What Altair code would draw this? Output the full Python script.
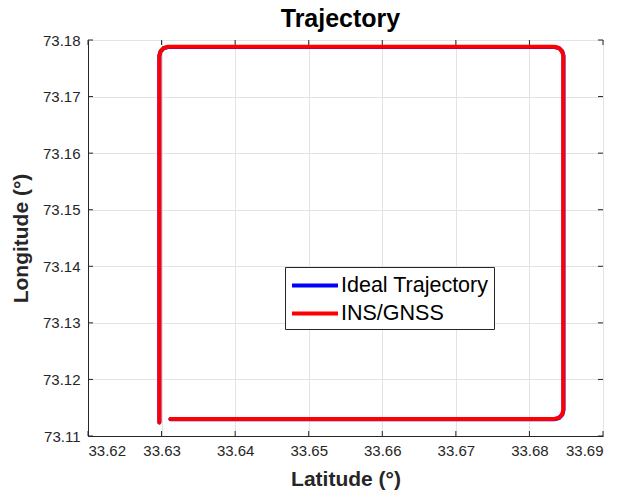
import altair as alt
import pandas as pd

FONT = "Liberation Sans"

# INS/GNSS trajectory (latitude, longitude)
ins_lat = [33.6312, 33.6834, 33.6840, 33.68444, 33.6846, 33.6846, 33.68444, 33.6840, 33.6834,
           33.6309, 33.6303, 33.62986, 33.6297, 33.6297]
ins_lon = [73.1130, 73.1130, 73.11321, 73.1138, 73.1146, 73.1772, 73.1780, 73.17859, 73.1788,
           73.1788, 73.17859, 73.1780, 73.1772, 73.1124]

# Ideal trajectory (nearly identical, hidden under the INS/GNSS line)
ideal_lat = [33.6312, 33.6834, 33.68403, 33.68447, 33.68463, 33.68463, 33.68447, 33.68403, 33.6834,
             33.6309, 33.6303, 33.62986, 33.6297, 33.6297]
ideal_lon = [73.11297, 73.11297, 73.11318, 73.11377, 73.1146, 73.1772, 73.17797, 73.17856, 73.17877,
             73.17877, 73.17856, 73.17797, 73.1772, 73.1124]

series = ["Ideal Trajectory", "INS/GNSS"]
colors = ["#0000ff", "#ff0000"]

x_ticks = [33.62, 33.63, 33.64, 33.65, 33.66, 33.67, 33.68, 33.69]
y_ticks = [73.11, 73.12, 73.13, 73.14, 73.15, 73.16, 73.17, 73.18]

ideal_df = pd.DataFrame({"lat": ideal_lat, "lon": ideal_lon, "order": range(len(ideal_lat)),
                         "series": series[0]})
ins_df = pd.DataFrame({"lat": ins_lat, "lon": ins_lon, "order": range(len(ins_lat)),
                       "series": series[1]})
xt_df = pd.DataFrame({"t": x_ticks})
yt_df = pd.DataFrame({"t": y_ticks})

xscale = alt.Scale(domain=[33.62, 33.69], nice=False, zero=False)
yscale = alt.Scale(domain=[73.11, 73.18], nice=False, zero=False)
cscale = alt.Scale(domain=series, range=colors)

xaxis = alt.Axis(values=x_ticks, format=".2f", title="Latitude (°)", grid=True, ticks=False,
                 labelPadding=7, titlePadding=10)
yaxis = alt.Axis(values=y_ticks, format=".2f", title="Longitude (°)", grid=True, ticks=False,
                 labelPadding=8, titlePadding=11)

legend = alt.Legend(title=None, orient="none", legendX=197, legendY=227,
                    symbolType="M-1,0H3", symbolStrokeWidth=4, symbolSize=529,
                    labelFontSize=21.5, labelFont=FONT, labelColor="#000000",
                    strokeColor="#262626", fillColor="#ffffff", padding=5,
                    rowPadding=4, labelOffset=24, labelLimit=300)

ideal = alt.Chart(ideal_df).mark_line(strokeWidth=4, strokeCap="round", strokeJoin="round").encode(
    x=alt.X("lat:Q", scale=xscale, axis=xaxis),
    y=alt.Y("lon:Q", scale=yscale, axis=yaxis),
    order="order:O",
    color=alt.Color("series:N", scale=cscale, legend=legend),
)
ins = alt.Chart(ins_df).mark_line(strokeWidth=4, strokeCap="round", strokeJoin="round").encode(
    x=alt.X("lat:Q", scale=xscale),
    y=alt.Y("lon:Q", scale=yscale),
    order="order:O",
    color=alt.Color("series:N", scale=cscale, legend=legend),
)

tick_color = "#262626"
xt_bot = alt.Chart(xt_df).mark_rule(color=tick_color).encode(
    x=alt.X("t:Q", scale=xscale), y=alt.value(396), y2=alt.value(391))
xt_top = alt.Chart(xt_df).mark_rule(color=tick_color).encode(
    x=alt.X("t:Q", scale=xscale), y=alt.value(0), y2=alt.value(5))
yt_left = alt.Chart(yt_df).mark_rule(color=tick_color).encode(
    y=alt.Y("t:Q", scale=yscale), x=alt.value(0), x2=alt.value(5))
yt_right = alt.Chart(yt_df).mark_rule(color=tick_color).encode(
    y=alt.Y("t:Q", scale=yscale), x=alt.value(515), x2=alt.value(510))

chart = alt.layer(ideal, ins, xt_bot, xt_top, yt_left, yt_right).properties(
    width=515, height=396,
    background="#ffffff",
    title=alt.TitleParams("Trajectory", font=FONT, fontSize=25, fontWeight="bold",
                          color="#000000", anchor="middle", dx=-5, dy=5, offset=6),
    autosize=alt.AutoSizeParams(type="none"),
    padding={"left": 88, "top": 40, "right": 33, "bottom": 59},
).configure_view(
    stroke="#262626", strokeWidth=1
).configure_axis(
    labelFont=FONT, labelFontSize=15, labelColor="#262626",
    titleFont=FONT, titleFontSize=21, titleFontWeight="bold", titleColor="#262626",
    domainColor="#262626", gridColor="#e3e3e3", gridWidth=1,
)

chart.save("out.html", embed_options={"renderer": "svg", "actions": False})
